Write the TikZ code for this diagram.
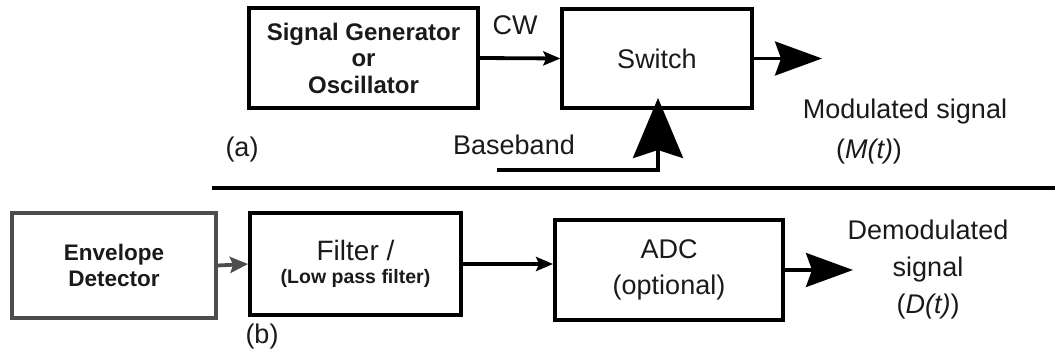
\documentclass[tikz,border=0pt]{standalone}
\usepackage{fontspec}
\setmainfont{Liberation Sans}
\usetikzlibrary{arrows.meta}
\definecolor{txt}{HTML}{1A1A1A}
\definecolor{grayline}{HTML}{4D4D4D}
\begin{document}
\begin{tikzpicture}[x=1pt,y=-1pt,
  blk/.style={draw=black, line width=3.8pt, inner sep=0pt, align=center, text=txt},
  lbl/.style={inner sep=0pt, text=txt, font=\fontsize{27}{32}\selectfont},
  smallarrow/.style={line width=3.8pt, -{Stealth[length=17pt,width=14pt,inset=3pt]}},
  bigarrow/.style={line width=3.2pt, -{Stealth[length=47pt,width=34pt,inset=6pt]}},
  bbarrow/.style={line width=4pt, -{Stealth[length=60pt,width=50pt,inset=8pt]}}]
\useasboundingbox (0,0) rectangle (1055,358);

% (a) modulator
\node[blk, minimum width=229pt, minimum height=100pt,
      font=\bfseries\fontsize{24}{26.5}\selectfont] (gen) at (363.5,58)
  {Signal Generator\\or\\Oscillator};
\node[blk, line width=3.3pt, minimum width=190pt, minimum height=99pt,
      font=\fontsize{27}{32}\selectfont] (sw) at (657,58.5) {Switch};
\node[lbl] (cw) at (515,25) {CW};
\node[lbl] (bb) at (514,145) {Baseband};
\node[lbl] (la) at (242,150) {(a)};
\node[lbl] (mod) at (905,112) {Modulated signal};
\node[lbl] (modt) at (869,152) {(\textit{M(t)})};
\coordinate (modout) at (822,62);
\coordinate (bbstart) at (497,170);
\coordinate (bbtip) at (658,98);

\draw[smallarrow] (gen.east) -- (sw.west);
\draw[bigarrow] (sw.east) -- (sw.east -| modout);
\draw[bbarrow] (bbstart) -| (bbtip);

% divider
\coordinate (divL) at (212,188);
\coordinate (divR) at (1055,188);
\draw[line width=3.8pt] (divL) -- (divR);

% (b) demodulator
\node[blk, draw=grayline, minimum width=204pt, minimum height=105pt,
      font=\bfseries\fontsize{22.5}{26}\selectfont] (env) at (114,265.5)
  {Envelope\\Detector};
\node[blk, minimum width=211pt, minimum height=102pt] (filt) at (355.5,264)
  {\fontsize{28}{32}\selectfont Filter /\\[8pt]
   \bfseries\fontsize{19.5}{24}\selectfont (Low pass filter)};
\node[blk, minimum width=228pt, minimum height=100pt,
      font=\fontsize{27}{36}\selectfont] (adc) at (669,270)
  {ADC\\(optional)};
\node[lbl, align=center, font=\fontsize{27}{37}\selectfont] (demod) at (928,270)
  {Demodulated\\signal\\(\textit{D(t)})};
\node[lbl] (lb) at (262,337) {(b)};
\coordinate (demout) at (853,270);

\draw[line width=3.8pt, grayline, -{Stealth[length=18pt,width=16pt,inset=3pt]}] (env.east) -- (filt.west);
\draw[smallarrow] (filt.east) -- (filt.east -| adc.west);
\draw[bigarrow] (adc.east) -- (adc.east -| demout);
\end{tikzpicture}
\end{document}
